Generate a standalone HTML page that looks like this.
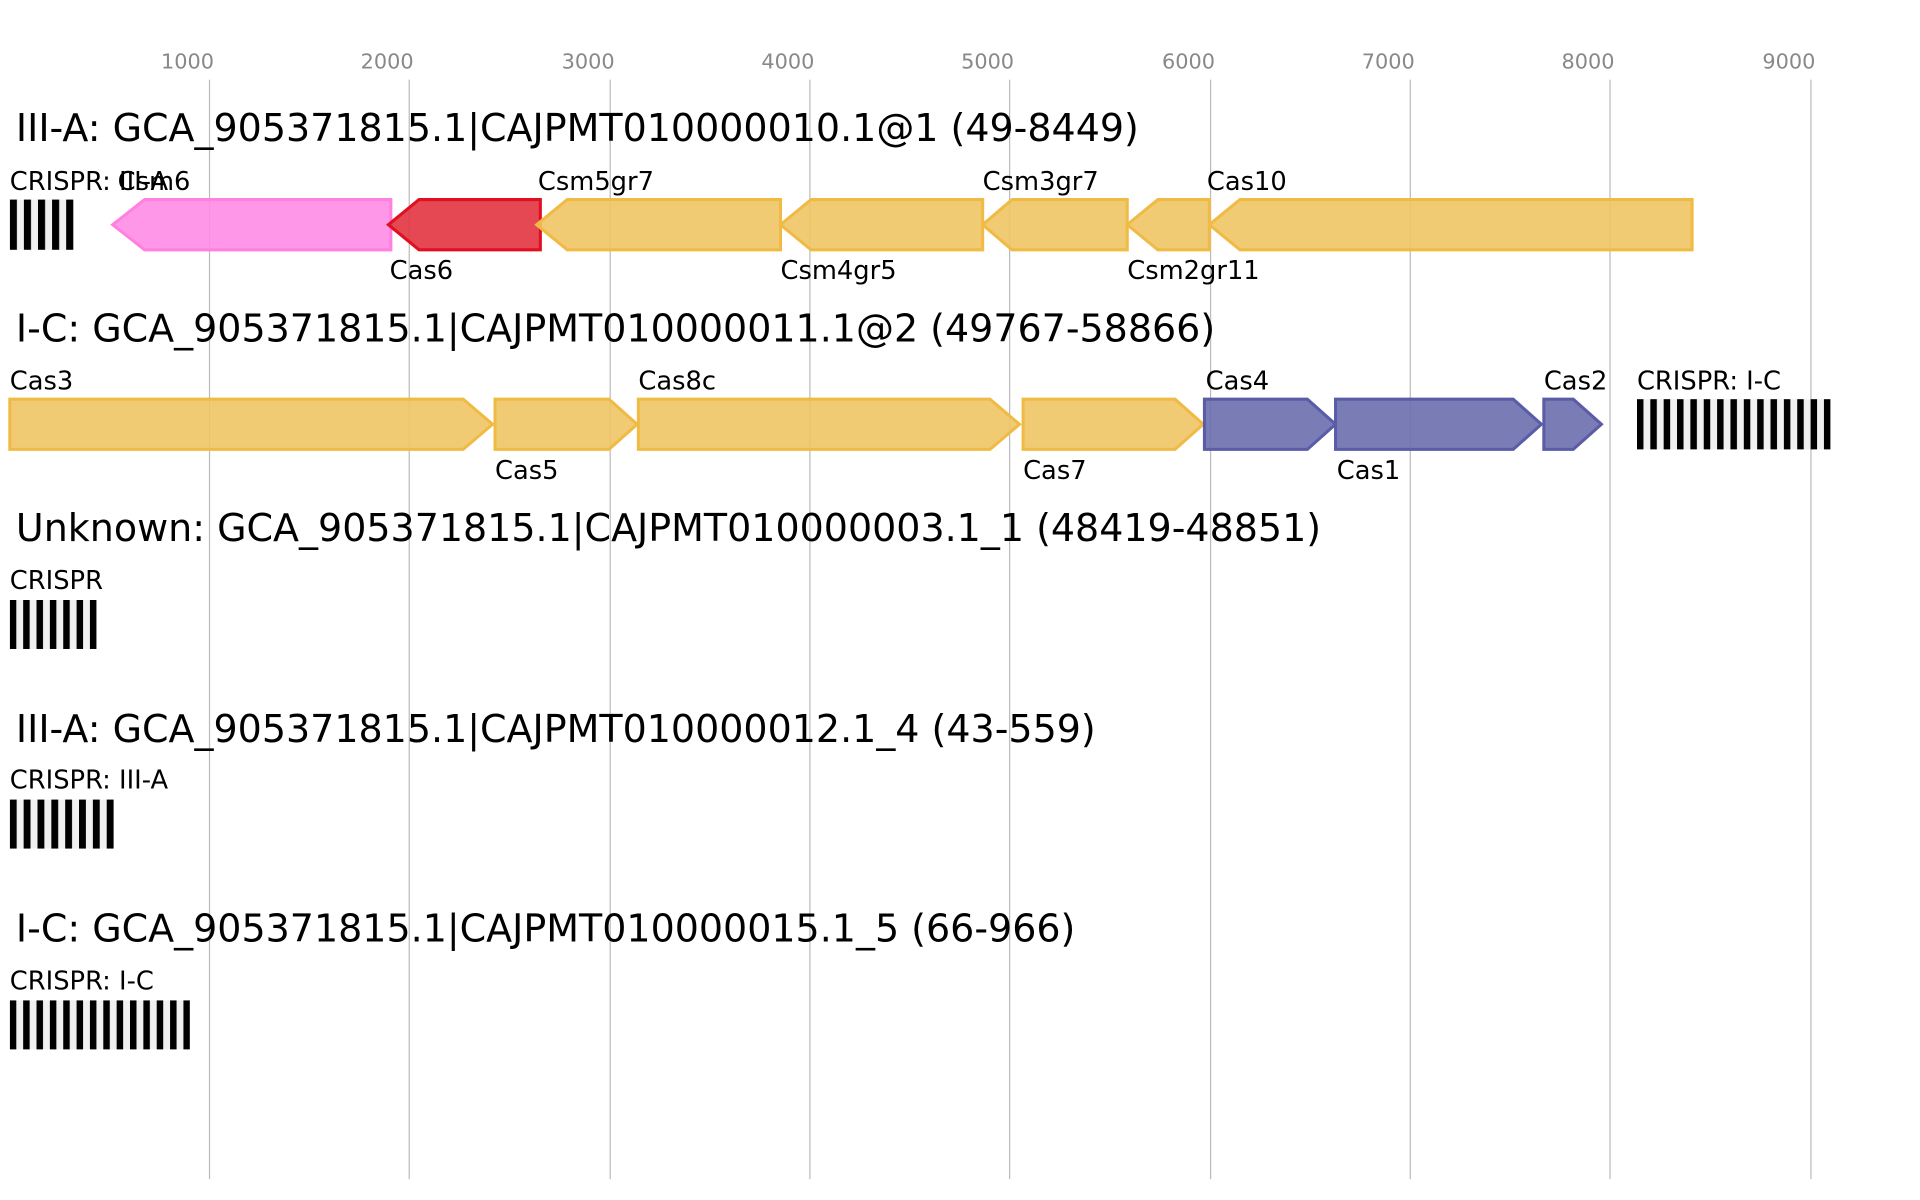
<!DOCTYPE html>
<html><head><meta charset="utf-8"><style>
html,body{margin:0;padding:0;background:#fff;}
svg{display:block;}
text{font-family:"DejaVu Sans","Liberation Sans",sans-serif;}
</style></head><body>
<svg width="1920" height="1200" viewBox="0 0 1567 980" preserveAspectRatio="none" xmlns="http://www.w3.org/2000/svg">
<defs>
<pattern id="p0" x="8" y="0" width="11.5" height="10" patternUnits="userSpaceOnUse"><rect width="11.5" height="10" fill="#f0f0f0"/><rect width="5.8" height="10" fill="#000"/></pattern>
<pattern id="p1" x="8" y="0" width="10.9" height="10" patternUnits="userSpaceOnUse"><rect width="10.9" height="10" fill="#f0f0f0"/><rect width="5.3" height="10" fill="#000"/></pattern>
<pattern id="p3" x="8" y="0" width="11.3" height="10" patternUnits="userSpaceOnUse"><rect width="11.3" height="10" fill="#f0f0f0"/><rect width="5.6" height="10" fill="#000"/></pattern>
<pattern id="p2" x="1336" y="0" width="10.9" height="10" patternUnits="userSpaceOnUse"><rect width="10.9" height="10" fill="#f0f0f0"/><rect width="5.3" height="10" fill="#000"/></pattern>
</defs>
<g stroke="#bbb" stroke-width="1">
<line x1="171" y1="65" x2="171" y2="963"/><line x1="334" y1="65" x2="334" y2="963"/><line x1="498" y1="65" x2="498" y2="963"/><line x1="661" y1="65" x2="661" y2="963"/><line x1="824" y1="65" x2="824" y2="963"/><line x1="988" y1="65" x2="988" y2="963"/><line x1="1151" y1="65" x2="1151" y2="963"/><line x1="1314" y1="65" x2="1314" y2="963"/><line x1="1478" y1="65" x2="1478" y2="963"/>
</g>
<g fill="#888" font-size="17" text-anchor="middle">
<text x="153" y="56">1000</text><text x="316" y="56">2000</text><text x="480" y="56">3000</text><text x="643" y="56">4000</text><text x="806" y="56">5000</text><text x="970" y="56">6000</text><text x="1133" y="56">7000</text><text x="1296" y="56">8000</text><text x="1460" y="56">9000</text>
</g>
<g fill="#000" font-size="31">
<text x="13" y="115">III-A: GCA_905371815.1|CAJPMT010000010.1@1 (49-8449)</text>
<text x="13" y="279">I-C: GCA_905371815.1|CAJPMT010000011.1@2 (49767-58866)</text>
<text x="13" y="442">Unknown: GCA_905371815.1|CAJPMT010000003.1_1 (48419-48851)</text>
<text x="13" y="606">III-A: GCA_905371815.1|CAJPMT010000012.1_4 (43-559)</text>
<text x="13" y="769">I-C: GCA_905371815.1|CAJPMT010000015.1_5 (66-966)</text>
</g>
<rect x="8" y="163" width="52" height="41" fill="url(#p0)"/>
<g stroke-width="2.5" fill-opacity="0.9">
<polygon points="92,183.5 118,163 319,163 319,204 118,204" fill="#ff8ce6" stroke="#ff80e0"/>
<polygon points="317,183.5 342,163 441,163 441,204 342,204" fill="#e23340" stroke="#e01020"/>
<polygon points="438,183.5 463,163 637,163 637,204 463,204" fill="#f0c565" stroke="#f0bb45"/>
<polygon points="637,183.5 662,163 802,163 802,204 662,204" fill="#f0c565" stroke="#f0bb45"/>
<polygon points="802,183.5 826,163 920,163 920,204 826,204" fill="#f0c565" stroke="#f0bb45"/>
<polygon points="920,183.5 945,163 987,163 987,204 945,204" fill="#f0c565" stroke="#f0bb45"/>
<polygon points="987,183.5 1012,163 1381,163 1381,204 1012,204" fill="#f0c565" stroke="#f0bb45"/>
</g>
<g stroke-width="2.5" fill-opacity="0.9">
<polygon points="8,326 378,326 402,346.5 378,367 8,367" fill="#f0c565" stroke="#f0bb45"/>
<polygon points="404,326 497,326 520,346.5 497,367 404,367" fill="#f0c565" stroke="#f0bb45"/>
<polygon points="521,326 808,326 832,346.5 808,367 521,367" fill="#f0c565" stroke="#f0bb45"/>
<polygon points="835,326 959,326 982,346.5 959,367 835,367" fill="#f0c565" stroke="#f0bb45"/>
<polygon points="983,326 1067,326 1090,346.5 1067,367 983,367" fill="#6c6eae" stroke="#5b5ca8"/>
<polygon points="1090,326 1235,326 1258,346.5 1235,367 1090,367" fill="#6c6eae" stroke="#5b5ca8"/>
<polygon points="1260,326 1284,326 1307,346.5 1284,367 1260,367" fill="#6c6eae" stroke="#5b5ca8"/>
</g>
<rect x="1336" y="326" width="158" height="41" fill="url(#p2)"/>
<rect x="8" y="490" width="71" height="40" fill="url(#p1)"/>
<rect x="8" y="653" width="85" height="40" fill="url(#p3)"/>
<rect x="8" y="817" width="147" height="40" fill="url(#p1)"/>
<g fill="#000" font-size="21">
<text x="8" y="155">CRISPR: III-A</text><text x="96" y="155">Csm6</text>
<text x="318" y="228">Cas6</text>
<text x="439" y="155">Csm5gr7</text>
<text x="637" y="228">Csm4gr5</text>
<text x="802" y="155">Csm3gr7</text>
<text x="920" y="228">Csm2gr11</text>
<text x="985" y="155">Cas10</text>
<text x="8" y="318">Cas3</text>
<text x="404" y="391">Cas5</text>
<text x="521" y="318">Cas8c</text>
<text x="835" y="391">Cas7</text>
<text x="984" y="318">Cas4</text>
<text x="1091" y="391">Cas1</text>
<text x="1260" y="318">Cas2</text>
<text x="1336" y="318">CRISPR: I-C</text>
<text x="8" y="481">CRISPR</text>
<text x="8" y="644">CRISPR: III-A</text>
<text x="8" y="808">CRISPR: I-C</text>
</g>
</svg>
</body></html>
